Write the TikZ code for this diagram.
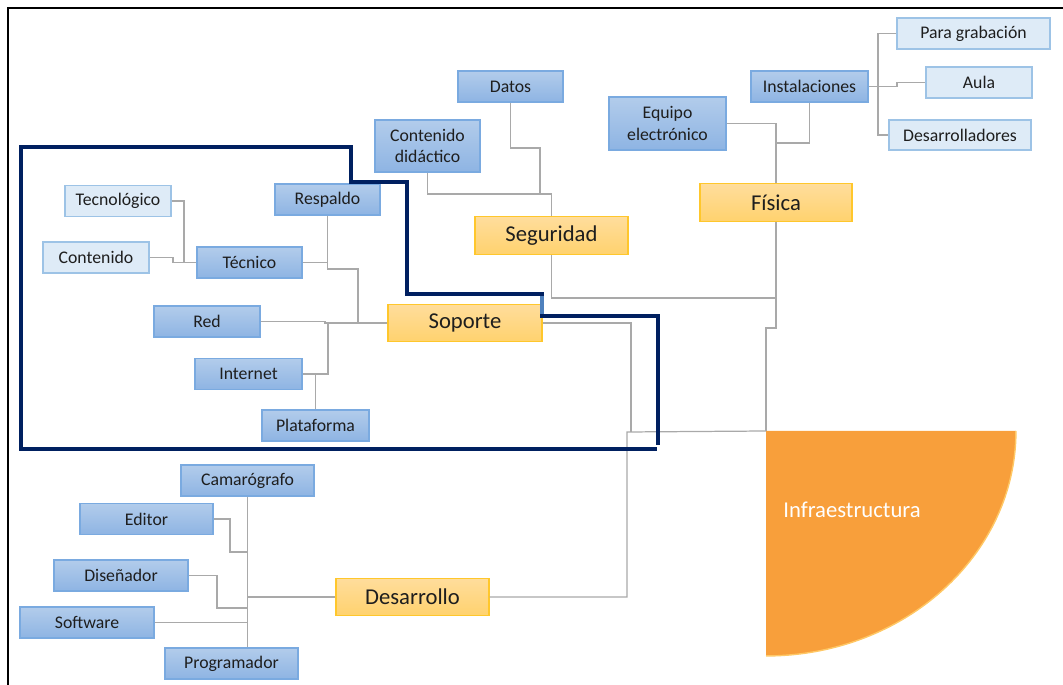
\documentclass[tikz,border=0pt]{standalone}
\usepackage{fontspec}
\setmainfont{Carlito}

\definecolor{azulclaro}{HTML}{DEEBF7}
\definecolor{bordeclaro}{HTML}{9DC3E6}
\definecolor{azularriba}{HTML}{B2CCEB}
\definecolor{azulabajo}{HTML}{8EB4E3}
\definecolor{bordeazul}{HTML}{7AAAE0}
\definecolor{amarilloarriba}{HTML}{FFDD9C}
\definecolor{amarilloabajo}{HTML}{FFD26E}
\definecolor{bordeamarillo}{HTML}{FFC72C}
\definecolor{naranja}{HTML}{F89F3B}
\definecolor{naranjaclaro}{HTML}{FFC866}
\definecolor{marino}{HTML}{002060}
\definecolor{azulmedio}{HTML}{4F81BD}
\definecolor{gris}{HTML}{A9A9A9}
\definecolor{texto}{HTML}{1E1E1E}

\begin{document}
\begin{tikzpicture}[x=0.02cm, y=-0.02cm,
    caja/.style={rectangle, inner sep=0pt, align=center, text=texto,
        font=\fontsize{10.1}{12}\selectfont, line width=0.6pt,
        minimum width=2.1cm, minimum height=0.62cm},
    hoja/.style={caja, fill=azulclaro, draw=bordeclaro},
    rama/.style={caja, top color=azularriba, bottom color=azulabajo, draw=bordeazul},
    area/.style={caja, top color=amarilloarriba, bottom color=amarilloabajo,
        draw=bordeamarillo, font=\fontsize{12.9}{15}\selectfont,
        minimum width=3.06cm, minimum height=0.75cm},
    enlace/.style={draw=gris, line width=0.7pt}]
    \useasboundingbox (0,0) rectangle (1063,685);

    % 外框 (只见上边和左边)
    \draw[line width=1.3pt] (8,685) -- (8,8) -- (1063,8);

    % 节点: Física 分支
    \node[hoja, minimum width=3.06cm] (grabacion) at (973.5,33.5) {Para grabación};
    \node[hoja, minimum width=2.12cm] (aula) at (979,82.5) {Aula};
    \node[hoja, minimum width=2.84cm, minimum height=0.6cm] (desarrolladores) at (960,135) {Desarrolladores};
    \node[rama, minimum width=2.34cm] (instalaciones) at (809.5,86.5) {Instalaciones};
    \node[rama, minimum width=2.34cm, minimum height=1.06cm] (equipo) at (667.5,123.5) {Equipo\\electrónico};
    \node[area, minimum width=3.04cm] (fisica) at (776,202.5) {Física};

    % 节点: Seguridad 分支
    \node[rama] (datos) at (510.5,86.5) {Datos};
    \node[rama, minimum height=1.04cm] (didactico) at (427.5,146) {Contenido\\didáctico};
    \node[area] (seguridad) at (551.5,235.5) {Seguridad};

    % 节点: Soporte 分支
    \node[rama] (respaldo) at (327.5,199.5) {Respaldo};
    \node[hoja, minimum width=2.12cm] (tecnologico) at (118,201) {Tecnológico};
    \node[hoja, minimum width=2.12cm] (contenido) at (96,257.5) {Contenido};
    \node[rama] (tecnico) at (249.5,262.5) {Técnico};
    \node[rama, minimum width=2.12cm] (red) at (207,321.5) {Red};
    \node[rama, minimum width=2.14cm] (internet) at (248.5,374) {Internet};
    \node[rama, minimum width=2.14cm] (plataforma) at (315.5,425.5) {Plataforma};
    \node[area, minimum width=3.08cm] (soporte) at (465,323) {Soporte};

    % 节点: Desarrollo 分支
    \node[rama, minimum width=2.66cm] (camarografo) at (247.5,480.5) {Camarógrafo};
    \node[rama, minimum width=2.66cm] (editor) at (146.5,519) {Editor};
    \node[rama, minimum width=2.68cm] (disenador) at (121,575.5) {Diseñador};
    \node[rama, minimum width=2.68cm] (software) at (87,622.5) {Software};
    \node[rama, minimum width=2.66cm] (programador) at (231.5,663.5) {Programador};
    \node[area] (desarrollo) at (412.5,597) {Desarrollo};

    % 连线: Física
    \coordinate (jfisica) at (777,143);
    \coordinate (jinst) at (878,86.5);
    \draw[enlace] (equipo.east) -| (fisica.north);
    \draw[enlace] (instalaciones.south) |- (jfisica);
    \draw[enlace] (instalaciones.east) -- (jinst);
    \draw[enlace] (grabacion.west) -| (jinst) |- (desarrolladores.west);
    \draw[enlace] (jinst) -- (897,86.5) |- (aula.west);

    % 连线: Seguridad
    \coordinate (jseguridad) at (551.5,194);
    \draw[enlace] (seguridad.north) -- (jseguridad);
    \draw[enlace] (didactico.south) |- (jseguridad);
    \draw[enlace] (datos.south) |- (540,148) |- (jseguridad);

    % 连线: 到 Infraestructura
    \coordinate (jcentro) at (776,298);
    \coordinate (infra) at (766,431);
    \draw[enlace] (seguridad.south) |- (jcentro);
    \draw[enlace] (fisica.south) -- (jcentro) -- (776,328) -| (infra);

    % 连线: Soporte
    \coordinate (jsoporte) at (328,323);
    \coordinate (jtecnico) at (184,262.5);
    \draw[enlace] (soporte.west) -- (jsoporte);
    \draw[enlace] (red.east) -- (325,321.5) |- (jsoporte);
    \draw[enlace] (jsoporte) |- (internet.east);
    \draw[enlace] (plataforma.north) -- (plataforma.north |- internet.east);
    \draw[enlace] (respaldo.south) |- (358,269) -- (358,323);
    \draw[enlace] (tecnico.east) -- (tecnico.east -| respaldo.south);
    \draw[enlace] (tecnologico.east) -| (jtecnico) -- (tecnico.west);
    \draw[enlace] (contenido.east) -| (173,262.5) -- (jtecnico);

    % 连线: Desarrollo
    \coordinate (jdesarrollo) at (627,432);
    \coordinate (jequipo) at (247,597);
    \draw[enlace] (soporte.east) -| (631,432);
    \draw[enlace] (desarrollo.east) -| (jdesarrollo) -- (infra);
    \draw[enlace] (desarrollo.west) -- (jequipo);
    \draw[enlace] (camarografo.south) -- (camarografo.south |- programador.north);
    \draw[enlace] (editor.east) -| (230,552) -- (247,552);
    \draw[enlace] (disenador.east) -| (217,608) -- (247,608);
    \draw[enlace] (software.east) -- (software.east -| camarografo.south);

    % 四分之一圆 Infraestructura
    \fill[naranja] (infra) -- ++(5.0cm,0) arc[start angle=0, end angle=-90, x radius=5.0cm, y radius=4.5cm] -- cycle;
    \draw[naranjaclaro, line width=0.8pt] (infra) ++(5.0cm,0) arc[start angle=0, end angle=-90, x radius=5.0cm, y radius=4.5cm];
    \node[anchor=west, inner sep=0pt, text=white, font=\fontsize{12.9}{15}\selectfont] (infratexto) at (783,510) {Infraestructura};

    % 粗线框住 Soporte 区域
    \draw[marino, line width=2.2pt] (658,445) -- (658,316) -- (542,316) -- (542,294) -- (407,294)
        -- (407,182) -- (351,182) -- (351,147) -- (21,147) -- (21,449) -- (657,449);
    \draw[azulmedio, line width=2.2pt] (542,296) -- (542,314);
\end{tikzpicture}
\end{document}
